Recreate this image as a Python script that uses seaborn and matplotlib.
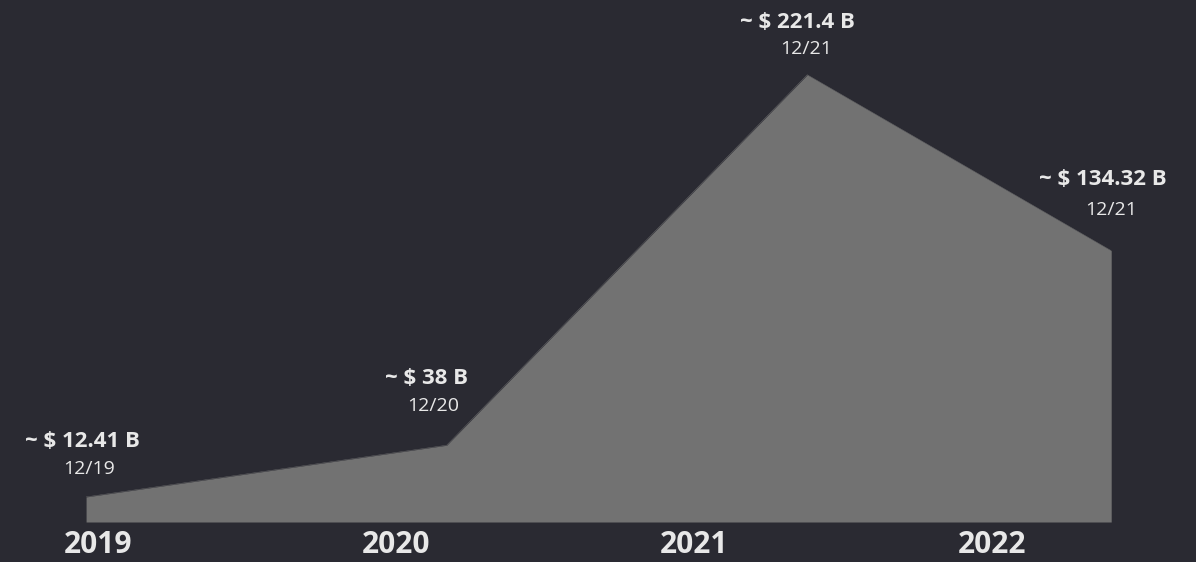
import seaborn as sns
import matplotlib.pyplot as plt
import pandas as pd

# values (billions of USD)
years = [2019, 2020, 2021, 2022]
point_x = [2018.96, 2020.17, 2021.38, 2022.40]
values = [12.41, 38.0, 221.4, 134.32]
value_labels = ['~ $ 12.41 B', '~ $ 38 B', '~ $ 221.4 B', '~ $ 134.32 B']
date_labels = ['12/19', '12/20', '12/21', '12/21']

# label placement (pixel offsets from each point)
value_offsets = [(-4, 55), (-20, 67), (-10, 52), (-8, 71)]
date_offsets = [(3, 28), (-13, 39), (-1, 26), (0, 41)]

bg = '#2a2a32'
area_color = '#727272'
text_color = '#e8e8e8'

sns.set_theme(style='dark')
plt.rcParams['font.family'] = ['Open Sans', 'DejaVu Sans']

df = pd.DataFrame({'x': point_x, 'value': values})

fig = plt.figure(figsize=(11.96, 5.62), dpi=100, facecolor=bg)
ax = fig.add_axes([0, 0, 1, 1])
ax.set_facecolor(bg)

sns.lineplot(data=df, x='x', y='value', color=area_color, linewidth=0.3, ax=ax)
ax.fill_between(df['x'], 0, df['value'], color=area_color, linewidth=0)

for x, v, vl, dl, vo, do in zip(point_x, values, value_labels, date_labels,
                                value_offsets, date_offsets):
    ax.annotate(vl, (x, v), xytext=vo, textcoords='offset pixels',
                ha='center', va='center', fontsize=16, fontweight='bold',
                color=text_color)
    ax.annotate(dl, (x, v), xytext=do, textcoords='offset pixels',
                ha='center', va='center', fontsize=14, color=text_color)

# axis mapping: year ticks 298 px apart, baseline 40 px above the bottom
ax.set_xlim(2019 - 98 / 298, 2019 + (1196 - 98) / 298)
ax.set_ylim(-40 / 2.02, (562 - 40) / 2.02)

# year labels under the baseline
for y in years:
    ax.text(y, -11.6, str(y), ha='center', va='center', fontsize=21.5,
            fontweight='bold', color=text_color)

ax.set_xticks([])
ax.set_yticks([])
ax.set_xlabel('')
ax.set_ylabel('')
ax.grid(False)
for s in ax.spines.values():
    s.set_visible(False)

fig.savefig('out.png', dpi=100, facecolor=bg)
